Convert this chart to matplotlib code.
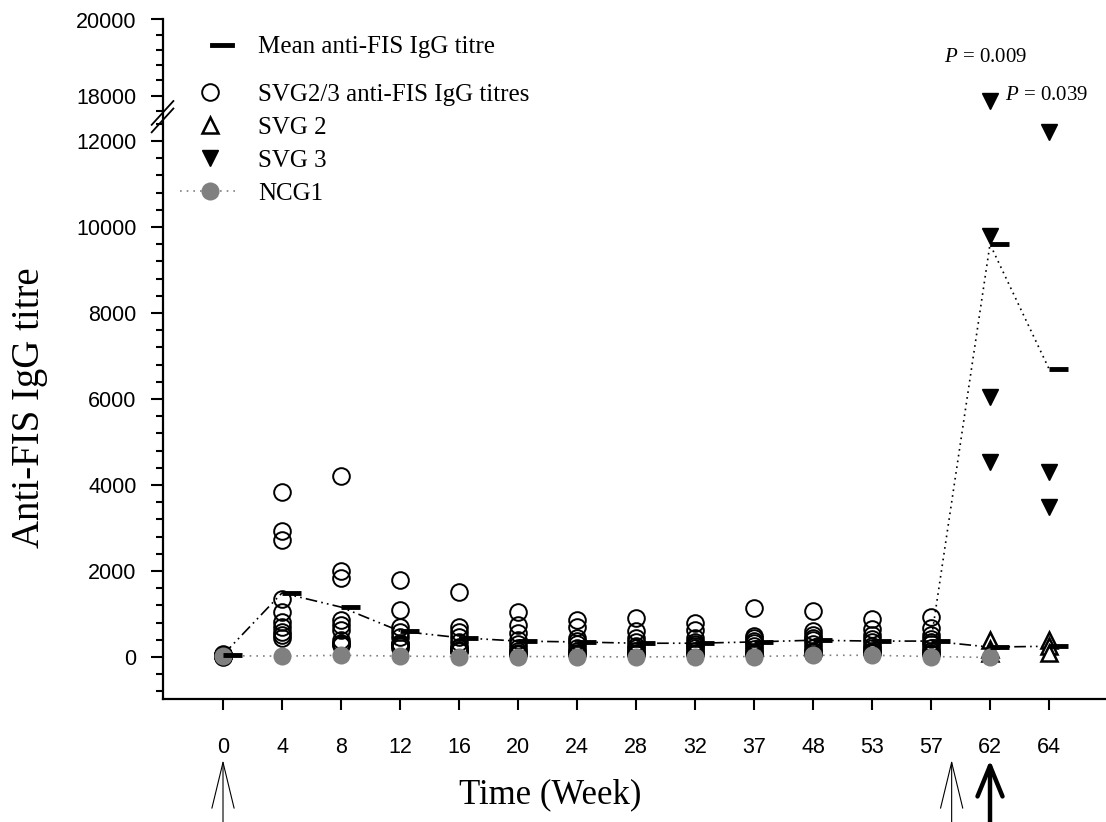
import numpy as np
import matplotlib
matplotlib.use('Agg')
import matplotlib.pyplot as plt
from matplotlib.lines import Line2D

plt.rcParams['mathtext.fontset'] = 'custom'
plt.rcParams['mathtext.rm'] = 'Liberation Serif'
plt.rcParams['mathtext.it'] = 'Liberation Serif:italic'

#################### DATA ######################
weeks = ['0', '4', '8', '12', '16', '20', '24', '28', '32', '37', '48', '53', '57', '62', '64']

# SVG2/3 individual titres, weeks 0..57
svg23 = [
    [60, 50, 50, 40, 40, 30, 30, 20, 20, 10],
    [3840, 2940, 2720, 1340, 1050, 820, 700, 590, 510, 430],
    [4220, 2010, 1830, 860, 740, 630, 400, 320, 300, 290],
    [1800, 1100, 700, 590, 470, 320, 300, 270, 250, 200],
    [1500, 700, 570, 470, 360, 240, 200, 170, 150, 140],
    [1050, 750, 550, 400, 300, 200, 150, 100, 80, 60],
    [870, 700, 450, 380, 300, 200, 150, 100, 80, 60],
    [900, 600, 450, 350, 250, 200, 150, 100, 80, 60],
    [800, 620, 450, 350, 300, 250, 200, 150, 100, 80],
    [1150, 480, 430, 380, 320, 250, 180, 120, 100, 80],
    [1080, 600, 520, 450, 400, 300, 200, 150, 120, 80],
    [890, 650, 520, 420, 350, 250, 200, 150, 120, 100],
    [920, 680, 500, 420, 350, 300, 200, 150, 100, 80],
]
svg2 = {'62': [400, 180, 100], '64': [400, 250, 100]}
svg3 = {'62': [17850, 9800, 6050, 4530], '64': [12200, 4300, 3490]}
ncg1 = [30, 20, 40, 20, 10, 10, 10, 0, 10, 10, 40, 40, 10, -10]  # weeks 0..62

mean_svg23 = [50, 1490, 1160, 600, 450, 370, 350, 320, 320, 350, 390, 370, 370]
mean_svg2 = [230, 250]   # weeks 62, 64
mean_svg3 = [9600, 6700]  # weeks 62, 64

p_labels = ['0.009', '0.039']
#################################################

# broken y axis: 12500-17500 squeezed to a few pixels
vp = np.array([-50000, 12500, 17500, 50000])
tp = np.array([-50000, 12500, 12616, 12616 + 32500 * 38 / 43])
def fwd(v):
    return np.interp(v, vp, tp)
def inv(t):
    return np.interp(t, tp, vp)

serif = 'Liberation Serif'
sans = 'Liberation Sans'

fig = plt.figure(figsize=(11.06, 8.22), dpi=100)
ax = fig.add_axes([163/1106, 123/822, 943/1106, 679.5/822])
ax.set_yscale('function', functions=(fwd, inv))

x = np.arange(len(weeks))
i62, i64 = weeks.index('62'), weeks.index('64')

# mean lines
xm = list(x[:len(mean_svg23)]) + [i62, i64]
ym = mean_svg23 + mean_svg2
ax.plot(xm, ym, color='k', lw=1.2, dashes=[7, 2.5, 1, 2.5, 1, 2.5], zorder=2)
ax.plot([len(mean_svg23) - 1, i62, i64], [mean_svg23[-1]] + mean_svg3, color='k', lw=1.2,
        linestyle=(0, (1, 2.5)), zorder=2)

# individual titres
for i, vals in enumerate(svg23):
    ax.plot([i] * len(vals), vals, 'o', ms=12, mfc='none', mec='k', mew=1.4, zorder=3)
for wk, vals in svg2.items():
    i = weeks.index(wk)
    ax.plot([i] * len(vals), vals, '^', ms=11, mfc='white', mec='k', mew=1.8, zorder=3)
for wk, vals in svg3.items():
    i = weeks.index(wk)
    ax.plot([i] * len(vals), vals, 'v', ms=12, mfc='k', mec='k', zorder=3)

# NCG1
ax.plot(x[:len(ncg1)], ncg1, color='grey', lw=1.2, linestyle=(0, (1, 3)), zorder=1)
ax.plot(x[:len(ncg1)], ncg1, 'o', ms=13, color='grey', mec='none', zorder=4)

# mean dashes
ax.hlines(ym, np.array(xm), np.array(xm) + 0.33, color='k', lw=3.5, zorder=5)
ax.hlines(mean_svg3, np.array([i62, i64]), np.array([i62, i64]) + 0.33, color='k', lw=3.5, zorder=5)

# P values
ax.text(i62 - 0.78, 18880, '$P$ = ' + p_labels[0], fontsize=15, family=serif, va='baseline')
ax.text(i62 + 0.26, 17880, '$P$ = ' + p_labels[1], fontsize=15, family=serif, va='baseline')

# axes
ax.set_xlim(-1.017, 14.966)
ax.set_ylim(-977, 20000)
ax.set_xticks(x)
ax.set_xticklabels(weeks, family=sans, fontsize=15.5)
major = list(range(0, 12001, 2000)) + [18000, 20000]
minor = [v for v in list(range(-800, 12401, 400)) + list(range(17600, 20000, 400)) if v not in major]
ax.set_yticks(major)
ax.set_yticklabels([str(v) for v in major], family=sans, fontsize=15.5)
ax.set_yticks(minor, minor=True)
ax.tick_params(axis='y', which='major', length=9, width=1.5, pad=10)
ax.tick_params(axis='y', which='minor', length=5, width=1.5)
ax.tick_params(axis='x', length=8, width=1.5, pad=19)
for s in ['top', 'right']:
    ax.spines[s].set_visible(False)
for s in ['left', 'bottom']:
    ax.spines[s].set_linewidth(1.6)

# break marks
for dy in [0.0, -0.011]:
    ax.plot([-0.012, 0.011], [0.845 + dy, 0.880 + dy], color='k', lw=1.3,
            transform=ax.transAxes, clip_on=False, zorder=6)

# labels
fig.text(30/1106, 1 - 408/822, 'Anti-FIS IgG titre', rotation=90, ha='center', va='center',
         family=serif, fontsize=28)
fig.text(550/1106, 1 - 795/822, 'Time (Week)', ha='center', va='center', family=serif, fontsize=25)

# vaccination arrows
for xa, lw, hl, hw in [(0, 0.8, 3.3, 0.8), (12.35, 0.8, 3.3, 0.8), (i62, 3.2, 2.2, 0.9)]:
    ax.annotate('', xy=(xa, 1 - 760/822), xytext=(xa, 0), xycoords=('data', 'figure fraction'),
                textcoords=('data', 'figure fraction'), annotation_clip=False,
                arrowprops=dict(arrowstyle='->,head_length=%s,head_width=%s' % (hl, hw),
                                lw=lw, color='k', mutation_scale=10, shrinkA=0, shrinkB=0))

# legends
h_mean = Line2D([], [], color='k', lw=3.5)
leg1 = ax.legend([h_mean], ['Mean anti-FIS IgG titre'], loc='upper left',
                 bbox_to_anchor=(212/1106, 1 - 36/822), bbox_transform=fig.transFigure,
                 frameon=False, borderpad=0, borderaxespad=0, handlelength=0.8,
                 handletextpad=1.05, prop={'family': serif, 'size': 18})
ax.add_artist(leg1)
hs = [Line2D([], [], marker='o', ls='none', ms=12, mfc='none', mec='k', mew=1.4),
      Line2D([], [], marker='^', ls='none', ms=11, mfc='white', mec='k', mew=1.8),
      Line2D([], [], marker='v', ls='none', ms=12, mfc='k', mec='k'),
      Line2D([], [], marker='o', ms=13, color='grey', mec='none', lw=1.2, linestyle=(0, (1, 3)))]
ax.legend(hs, ['SVG2/3 anti-FIS IgG titres', 'SVG 2', 'SVG 3', 'NCG1'], loc='upper left',
          bbox_to_anchor=(180/1106, 1 - 83/822), bbox_transform=fig.transFigure,
          frameon=False, borderpad=0, borderaxespad=0, handlelength=2.4,
          handletextpad=0.72, labelspacing=0.43, prop={'family': serif, 'size': 18})

plt.savefig('out.png', dpi=100)
